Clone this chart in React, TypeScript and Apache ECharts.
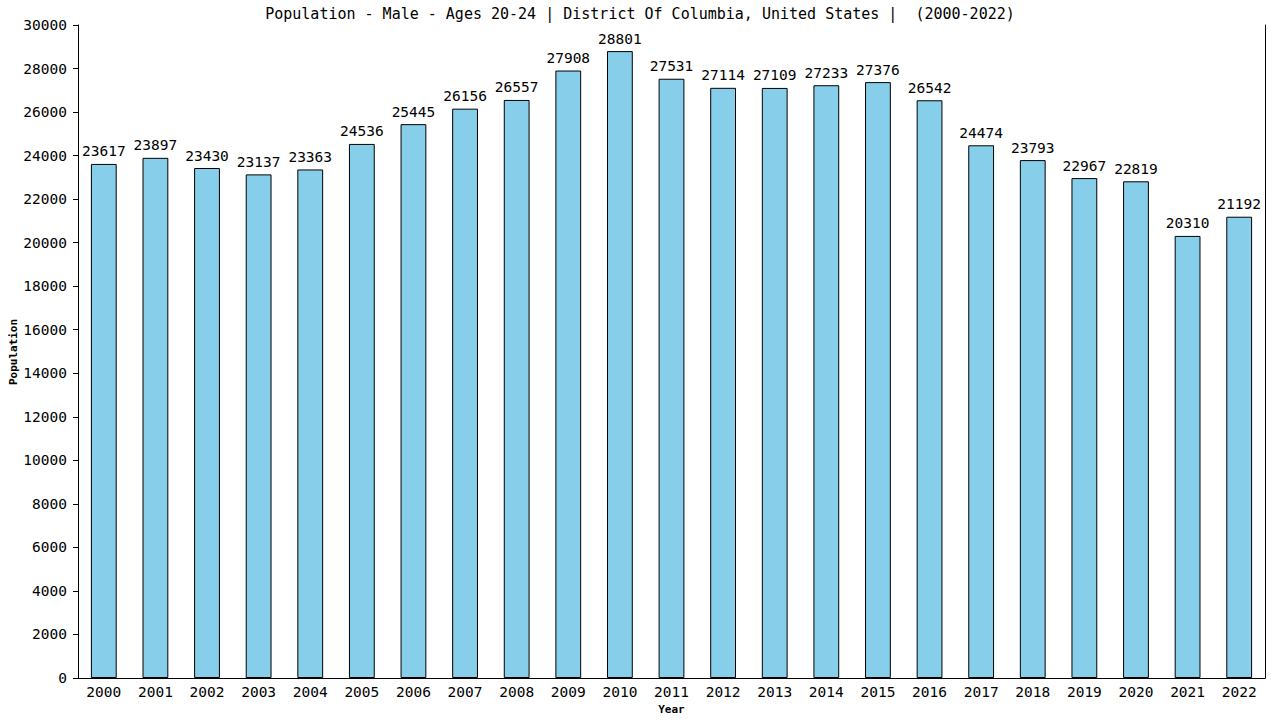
import React, { useEffect, useRef } from "react";
import * as echarts from "echarts";

const years = ["2000","2001","2002","2003","2004","2005","2006","2007","2008","2009","2010","2011","2012","2013","2014","2015","2016","2017","2018","2019","2020","2021","2022"];
const population = [23617,23897,23430,23137,23363,24536,25445,26156,26557,27908,28801,27531,27114,27109,27233,27376,26542,24474,23793,22967,22819,20310,21192];
const titleText = "Population - Male - Ages 20-24 | District Of Columbia, United States |  (2000-2022)";
const yAxisName = "Population";
const xAxisName = "Year";

const FONT = "DejaVu Sans Mono";

export default function App() {
  const ref = useRef<HTMLDivElement>(null);
  useEffect(() => {
    if (!ref.current) return;
    const chart = echarts.init(ref.current, null, { renderer: "svg" });
    chart.setOption({
      animation: false,
      backgroundColor: "#ffffff",
      title: {
        text: titleText,
        left: "center",
        top: 1,
        textStyle: { fontFamily: FONT, fontSize: 15, fontWeight: "normal", color: "#000" },
      },
      grid: { left: 78, right: 15, top: 25, bottom: 42, outerBoundsMode: "none", containLabel: false },
      graphic: [
        {
          type: "text",
          x: 13,
          y: 352,
          rotation: Math.PI / 2,
          style: {
            text: yAxisName,
            fontFamily: FONT,
            fontSize: 11,
            fontWeight: "bold",
            fill: "#000",
            align: "center",
            verticalAlign: "middle",
          },
        },
      ],
      xAxis: {
        type: "category",
        data: years,
        name: xAxisName,
        nameLocation: "middle",
        nameGap: 26,
        nameTextStyle: { fontFamily: FONT, fontSize: 11, fontWeight: "bold", color: "#000" },
        axisLine: { show: true, lineStyle: { color: "#000", width: 1 } },
        axisTick: { show: false },
        axisLabel: { fontFamily: FONT, fontSize: 14.5, color: "#000", margin: 6 },
      },
      yAxis: [
        {
          type: "value",
          min: 0,
          max: 30000,
          interval: 2000,
          axisLine: { show: true, lineStyle: { color: "#000", width: 1 } },
          axisTick: { show: true, length: 5, lineStyle: { color: "#000" } },
          axisLabel: {
            fontFamily: FONT,
            fontSize: 14.5,
            color: "#000",
            margin: 11,
            formatter: (v: number) => String(v),
          },
          splitLine: { show: false },
        },
        {
          type: "value",
          position: "right",
          min: 0,
          max: 30000,
          interval: 2000,
          axisLine: { show: true, lineStyle: { color: "#000", width: 1 } },
          axisTick: { show: false },
          axisLabel: { show: false },
          splitLine: { show: false },
        },
      ],
      series: [
        {
          type: "bar",
          data: population,
          yAxisIndex: 0,
          barWidth: "50%",
          itemStyle: { color: "#87CEEB", borderColor: "#000", borderWidth: 1 },
          label: {
            show: true,
            position: "top",
            distance: 5,
            fontFamily: FONT,
            fontSize: 14.5,
            color: "#000",
          },
        },
      ],
    });
    return () => chart.dispose();
  }, []);
  return <div ref={ref} style={{ width: 1280, height: 720, position: "absolute", left: 0, top: 0 }} />;
}
